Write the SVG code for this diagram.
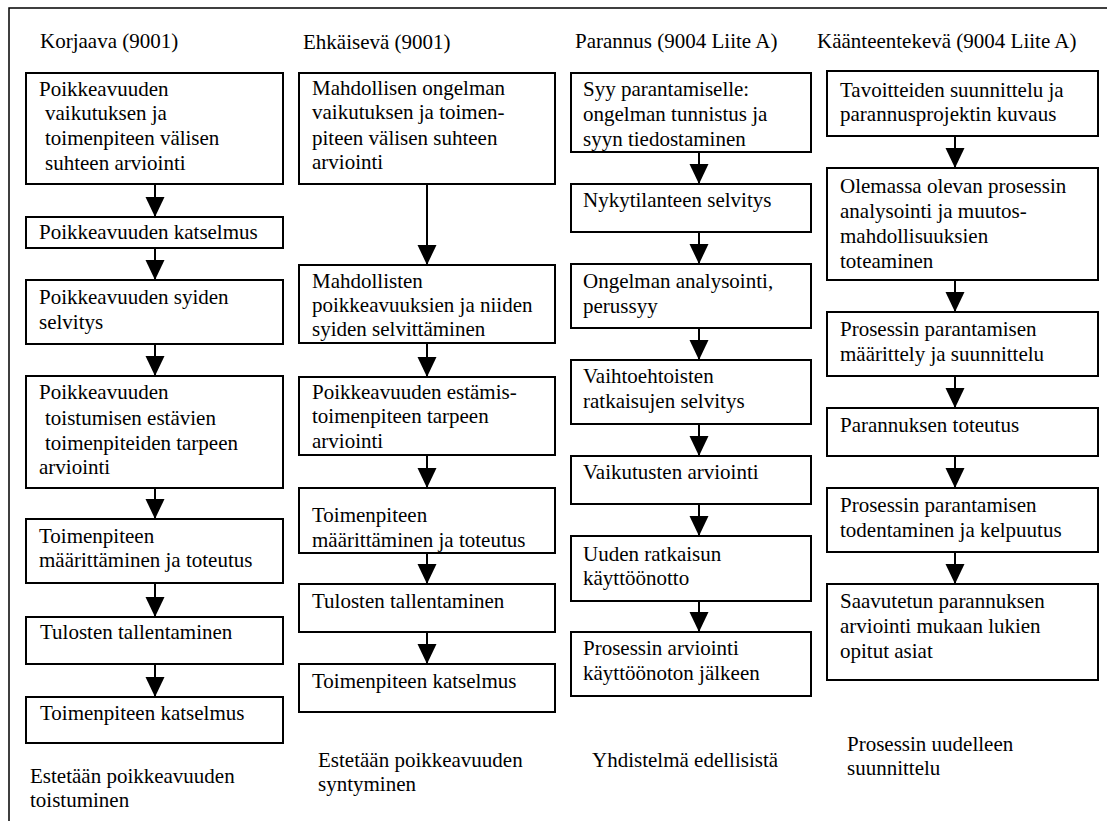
<svg xmlns="http://www.w3.org/2000/svg" width="1107" height="821" viewBox="0 0 1107 821">
<style>
text{font-family:'Liberation Serif','Tinos','Times New Roman','DejaVu Serif',serif;font-size:21px;fill:#000}
.box{fill:#fff;stroke:#000;stroke-width:2}
.frame{fill:none;stroke:#000;stroke-width:1.5}
.conn{stroke:#000;stroke-width:2;fill:none}
</style>
<defs>
<marker id="ah" viewBox="0 0 20 20" refX="20" refY="10" markerWidth="20" markerHeight="20" markerUnits="userSpaceOnUse" orient="auto">
<path d="M0,0.5 L20,10 L0,19.5 z" fill="#000"/>
</marker>
</defs>
<rect width="1107" height="821" fill="#fff"/>
<path class="frame" d="M9,821 L9,8 L1107,8"/>
<g font-family="Liberation Serif, DejaVu Serif, serif" font-size="21">
<g id="titles">
<text x="40" y="48">Korjaava (9001)</text>
<text x="303" y="49">Ehkäisevä (9001)</text>
<text x="575" y="48">Parannus (9004 Liite A)</text>
<text x="817" y="48">Käänteentekevä (9004 Liite A)</text>
</g>

<g id="connectors">
<line class="conn" x1="155" y1="184" x2="155" y2="217" marker-end="url(#ah)"/>
<line class="conn" x1="155" y1="248" x2="155" y2="280" marker-end="url(#ah)"/>
<line class="conn" x1="155" y1="344" x2="155" y2="376" marker-end="url(#ah)"/>
<line class="conn" x1="155" y1="488" x2="155" y2="519" marker-end="url(#ah)"/>
<line class="conn" x1="155" y1="583" x2="155" y2="617" marker-end="url(#ah)"/>
<line class="conn" x1="155" y1="664" x2="155" y2="697" marker-end="url(#ah)"/>

<line class="conn" x1="427" y1="184" x2="427" y2="265" marker-end="url(#ah)"/>
<line class="conn" x1="427" y1="343" x2="427" y2="377" marker-end="url(#ah)"/>
<line class="conn" x1="427" y1="455" x2="427" y2="488" marker-end="url(#ah)"/>
<line class="conn" x1="427" y1="553" x2="427" y2="584" marker-end="url(#ah)"/>
<line class="conn" x1="427" y1="632" x2="427" y2="664" marker-end="url(#ah)"/>

<line class="conn" x1="699" y1="152" x2="699" y2="184" marker-end="url(#ah)"/>
<line class="conn" x1="699" y1="232" x2="699" y2="264" marker-end="url(#ah)"/>
<line class="conn" x1="699" y1="328" x2="699" y2="360" marker-end="url(#ah)"/>
<line class="conn" x1="699" y1="424" x2="699" y2="456" marker-end="url(#ah)"/>
<line class="conn" x1="699" y1="504" x2="699" y2="536" marker-end="url(#ah)"/>
<line class="conn" x1="699" y1="601" x2="699" y2="632" marker-end="url(#ah)"/>

<line class="conn" x1="955" y1="136" x2="955" y2="168" marker-end="url(#ah)"/>
<line class="conn" x1="955" y1="280" x2="955" y2="312" marker-end="url(#ah)"/>
<line class="conn" x1="955" y1="376" x2="955" y2="408" marker-end="url(#ah)"/>
<line class="conn" x1="955" y1="456" x2="955" y2="488" marker-end="url(#ah)"/>
<line class="conn" x1="955" y1="552" x2="955" y2="584" marker-end="url(#ah)"/>
</g>

<g id="k1"><rect class="box" x="26" y="73" width="257" height="111"/>
<text x="39" y="96">Poikkeavuuden</text><text x="45" y="120">vaikutuksen ja</text><text x="45" y="145">toimenpiteen välisen</text><text x="45" y="170">suhteen arviointi</text></g>
<g id="k2"><rect class="box" x="26" y="217" width="257" height="31"/>
<text x="39" y="239">Poikkeavuuden katselmus</text></g>
<g id="k3"><rect class="box" x="26" y="280" width="257" height="64"/>
<text x="39" y="304">Poikkeavuuden syiden</text><text x="39" y="329">selvitys</text></g>
<g id="k4"><rect class="box" x="26" y="376" width="257" height="112"/>
<text x="39" y="399">Poikkeavuuden</text><text x="45" y="425">toistumisen estävien</text><text x="45" y="450">toimenpiteiden tarpeen</text><text x="39" y="474">arviointi</text></g>
<g id="k5"><rect class="box" x="26" y="519" width="257" height="64"/>
<text x="39" y="543">Toimenpiteen</text><text x="39" y="567">määrittäminen ja toteutus</text></g>
<g id="k6"><rect class="box" x="26" y="617" width="257" height="47"/>
<text x="40" y="639">Tulosten tallentaminen</text></g>
<g id="k7"><rect class="box" x="26" y="697" width="257" height="46"/>
<text x="40" y="720">Toimenpiteen katselmus</text></g>
<g id="k-note"><text x="30" y="783">Estetään poikkeavuuden</text><text x="30" y="807">toistuminen</text></g>

<g id="e1"><rect class="box" x="299" y="73" width="256" height="111"/>
<text x="312" y="95">Mahdollisen ongelman</text><text x="312" y="119">vaikutuksen ja toimen-</text><text x="312" y="145">piteen välisen suhteen</text><text x="312" y="169">arviointi</text></g>
<g id="e2"><rect class="box" x="299" y="265" width="256" height="78"/>
<text x="312" y="288">Mahdollisten</text><text x="312" y="312">poikkeavuuksien ja niiden</text><text x="312" y="336">syiden selvittäminen</text></g>
<g id="e3"><rect class="box" x="299" y="377" width="256" height="78"/>
<text x="312" y="399">Poikkeavuuden estämis-</text><text x="312" y="423">toimenpiteen tarpeen</text><text x="312" y="448">arviointi</text></g>
<g id="e4"><rect class="box" x="299" y="488" width="256" height="65"/>
<text x="312" y="522">Toimenpiteen</text><text x="312" y="547">määrittäminen ja toteutus</text></g>
<g id="e5"><rect class="box" x="299" y="584" width="256" height="48"/>
<text x="312" y="608">Tulosten tallentaminen</text></g>
<g id="e6"><rect class="box" x="299" y="664" width="256" height="48"/>
<text x="312" y="688">Toimenpiteen katselmus</text></g>
<g id="e-note"><text x="318" y="767">Estetään poikkeavuuden</text><text x="318" y="791">syntyminen</text></g>

<g id="p1"><rect class="box" x="571" y="73" width="240" height="79"/>
<text x="583" y="96">Syy parantamiselle:</text><text x="583" y="121">ongelman tunnistus ja</text><text x="583" y="146">syyn tiedostaminen</text></g>
<g id="p2"><rect class="box" x="571" y="184" width="240" height="48"/>
<text x="583" y="207">Nykytilanteen selvitys</text></g>
<g id="p3"><rect class="box" x="571" y="264" width="240" height="64"/>
<text x="583" y="288">Ongelman analysointi,</text><text x="583" y="313">perussyy</text></g>
<g id="p4"><rect class="box" x="571" y="360" width="240" height="64"/>
<text x="583" y="383">Vaihtoehtoisten</text><text x="583" y="408">ratkaisujen selvitys</text></g>
<g id="p5"><rect class="box" x="571" y="456" width="240" height="48"/>
<text x="583" y="479">Vaikutusten arviointi</text></g>
<g id="p6"><rect class="box" x="571" y="536" width="240" height="65"/>
<text x="583" y="561">Uuden ratkaisun</text><text x="583" y="585">käyttöönotto</text></g>
<g id="p7"><rect class="box" x="571" y="632" width="240" height="64"/>
<text x="583" y="655">Prosessin arviointi</text><text x="583" y="680">käyttöönoton jälkeen</text></g>
<g id="p-note"><text x="592" y="767">Yhdistelmä edellisistä</text></g>

<g id="t1"><rect class="box" x="827" y="71" width="271" height="65"/>
<text x="840" y="97">Tavoitteiden suunnittelu ja</text><text x="840" y="121">parannusprojektin kuvaus</text></g>
<g id="t2"><rect class="box" x="827" y="168" width="271" height="112"/>
<text x="840" y="193">Olemassa olevan prosessin</text><text x="840" y="218">analysointi ja muutos-</text><text x="840" y="243">mahdollisuuksien</text><text x="840" y="268">toteaminen</text></g>
<g id="t3"><rect class="box" x="827" y="312" width="271" height="64"/>
<text x="840" y="336">Prosessin parantamisen</text><text x="840" y="361">määrittely ja suunnittelu</text></g>
<g id="t4"><rect class="box" x="827" y="408" width="271" height="48"/>
<text x="840" y="432">Parannuksen toteutus</text></g>
<g id="t5"><rect class="box" x="827" y="488" width="271" height="64"/>
<text x="840" y="512">Prosessin parantamisen</text><text x="840" y="537">todentaminen ja kelpuutus</text></g>
<g id="t6"><rect class="box" x="827" y="584" width="271" height="96"/>
<text x="840" y="608">Saavutetun parannuksen</text><text x="840" y="633">arviointi mukaan lukien</text><text x="840" y="658">opitut asiat</text></g>
<g id="t-note"><text x="847" y="751">Prosessin uudelleen</text><text x="847" y="775">suunnittelu</text></g>
</g>
</svg>
